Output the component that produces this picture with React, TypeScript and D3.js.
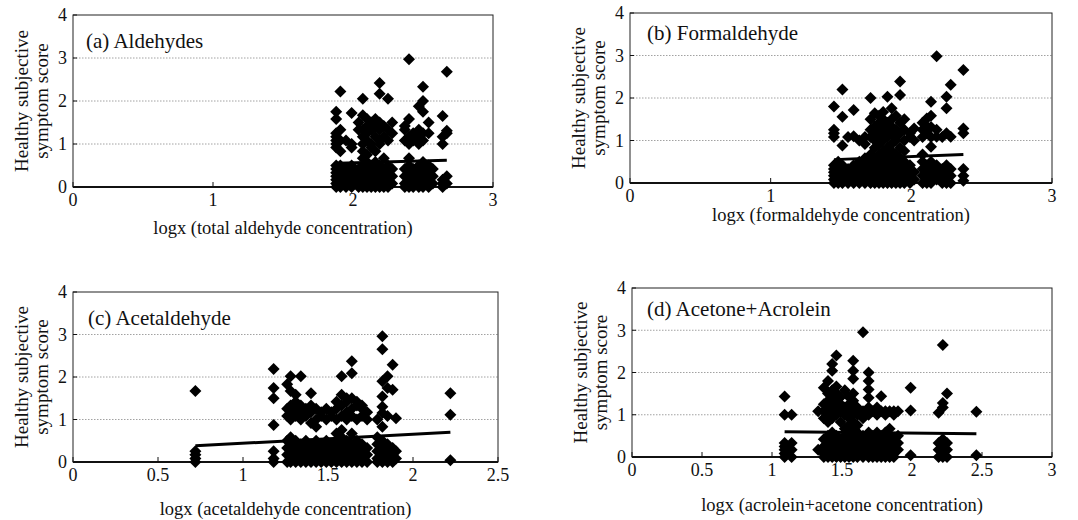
import * as d3 from 'd3'

type Col = [number, number[]]

// each column: [logx, scores at that x]
const aldehydesCols: Col[] = [
  [1.88, [0, 0.08, 0.17, 0.25, 0.33, 0.42, 0.5, 0.92, 1.0, 1.08, 1.17, 1.25, 1.58, 1.75]],
  [1.91, [0, 0.17, 0.33, 0.5, 0.83, 1.08, 1.33, 2.22]],
  [1.95, [0, 0.08, 0.25, 0.42, 1.08]],
  [1.99, [0, 0.17, 0.33, 0.5, 0.92, 1.0, 1.72]],
  [2.04, [0, 0.08, 0.25, 0.42, 1.33, 1.5]],
  [2.07, [0, 0.17, 0.33, 0.5, 0.67, 0.83, 1.0, 1.17, 1.33, 1.67, 2.05]],
  [2.1, [0, 0.08, 0.25, 0.42, 0.58, 0.75, 1.08, 1.25, 1.42, 1.58]],
  [2.13, [0, 0.17, 0.33, 0.5, 0.92, 1.0, 1.33, 1.5]],
  [2.16, [0, 0.08, 0.25, 0.42, 0.58, 0.83, 1.17, 1.42, 1.58]],
  [2.19, [0, 0.17, 0.33, 0.5, 1.0, 1.08, 1.33, 1.5, 2.17, 2.42]],
  [2.22, [0, 0.08, 0.25, 0.42, 0.67, 1.17, 1.42]],
  [2.25, [0, 0.17, 0.33, 0.5, 1.08, 1.33, 2.05]],
  [2.28, [0.08, 0.25, 0.42, 1.25, 1.5]],
  [2.37, [0, 0.08, 0.25, 0.42, 1.08, 1.33, 1.42]],
  [2.4, [0, 0.17, 0.33, 0.5, 0.67, 1.0, 1.17, 1.58, 2.97]],
  [2.43, [0, 0.08, 0.25, 0.42, 1.08, 1.25]],
  [2.47, [0, 0.17, 0.33, 0.5, 1.0, 1.17, 1.33, 1.88]],
  [2.5, [0, 0.08, 0.25, 0.42, 0.58, 1.08, 1.25, 1.75, 2.0, 2.33]],
  [2.54, [0, 0.17, 0.33, 0.5, 1.25, 1.5]],
  [2.57, [0.08, 0.25, 0.42]],
  [2.64, [0, 0.08, 0.17, 1.0, 1.17, 1.65]],
  [2.67, [0.08, 0.25, 1.25, 1.31, 2.68]],
]

const formaldehydeCols: Col[] = [
  [1.45, [0, 0.08, 0.17, 0.25, 0.33, 0.42, 1.08, 1.17, 1.25, 1.8]],
  [1.48, [0, 0.17, 0.33, 0.5]],
  [1.51, [0, 0.08, 0.25, 0.42, 0.88, 1.56, 2.2]],
  [1.55, [0, 0.17, 0.33, 1.08]],
  [1.59, [0, 0.08, 0.25, 0.42, 1.1, 1.72]],
  [1.63, [0, 0.17, 0.33, 0.5, 1.0]],
  [1.67, [0, 0.08, 0.25, 0.42, 0.58, 0.92, 1.08]],
  [1.71, [0, 0.17, 0.33, 0.5, 0.67, 1.08, 1.25, 1.5, 2.0]],
  [1.74, [0, 0.08, 0.25, 0.42, 0.58, 0.83, 1.0, 1.17, 1.33, 1.64]],
  [1.77, [0, 0.17, 0.33, 0.5, 0.67, 0.92, 1.08, 1.25, 1.42, 1.58]],
  [1.8, [0, 0.08, 0.25, 0.42, 0.58, 0.75, 1.0, 1.17, 1.33, 1.5, 1.67]],
  [1.83, [0, 0.17, 0.33, 0.5, 0.67, 0.83, 1.08, 1.25, 1.42, 2.03]],
  [1.86, [0, 0.08, 0.25, 0.42, 0.58, 0.75, 0.92, 1.17, 1.33, 1.5, 1.76]],
  [1.89, [0, 0.17, 0.33, 0.5, 0.67, 1.0, 1.08, 1.25, 1.58]],
  [1.92, [0, 0.08, 0.25, 0.42, 0.58, 0.83, 1.17, 1.42, 2.07, 2.39]],
  [1.95, [0, 0.17, 0.33, 0.5, 0.75, 1.0, 1.25, 1.5]],
  [1.99, [0, 0.08, 0.25, 0.42, 1.08, 1.17]],
  [2.02, [0.08, 0.25, 1.0, 1.28]],
  [2.08, [0, 0.17, 0.33, 0.5, 0.67, 1.08, 1.25, 1.42]],
  [2.11, [0, 0.08, 0.25, 0.42, 1.17, 1.33, 1.52]],
  [2.14, [0, 0.17, 0.33, 0.5, 0.85, 1.08, 1.32, 1.58, 1.91]],
  [2.18, [0.08, 0.25, 0.42, 1.09, 1.25, 2.98]],
  [2.22, [0, 0.17, 0.33, 1.08]],
  [2.25, [0, 0.08, 0.25, 0.42, 1.17, 1.76, 2.03]],
  [2.28, [0, 0.17, 0.33, 1.09, 2.31]],
  [2.37, [0.05, 0.17, 0.33, 1.17, 1.28, 2.66]],
]

const acetaldehydeCols: Col[] = [
  [0.72, [0, 0.08, 0.17, 0.25, 1.67]],
  [1.18, [0, 0.08, 0.25, 0.87, 1.5, 1.74, 2.19]],
  [1.26, [0, 0.17, 0.33, 0.5, 1.08, 1.25, 1.83]],
  [1.28, [0, 0.08, 0.25, 0.42, 0.58, 1.0, 1.17, 1.33, 1.67, 2.02]],
  [1.31, [0, 0.17, 0.33, 0.5, 1.08, 1.25, 1.42, 1.58]],
  [1.34, [0, 0.08, 0.25, 0.42, 1.0, 1.17, 1.33, 2.02]],
  [1.37, [0, 0.17, 0.33, 0.5, 1.08, 1.25]],
  [1.4, [0, 0.08, 0.25, 0.42, 0.92, 1.17, 1.33, 1.62]],
  [1.43, [0, 0.17, 0.33, 0.5, 0.83, 1.0, 1.25]],
  [1.46, [0, 0.08, 0.25, 0.42, 1.08, 1.17]],
  [1.49, [0, 0.17, 0.33, 0.5, 1.0, 1.25]],
  [1.52, [0, 0.08, 0.25, 0.42, 1.08, 1.17]],
  [1.55, [0, 0.17, 0.33, 0.5, 0.67, 1.0, 1.25, 1.42]],
  [1.58, [0, 0.08, 0.25, 0.42, 0.58, 0.75, 1.08, 1.33, 1.58, 2.02]],
  [1.61, [0, 0.17, 0.33, 0.5, 1.0, 1.17, 1.42, 1.5]],
  [1.64, [0, 0.08, 0.25, 0.42, 0.67, 1.08, 1.25, 1.5, 2.09, 2.37]],
  [1.67, [0, 0.17, 0.33, 0.5, 1.0, 1.33, 1.42]],
  [1.7, [0, 0.08, 0.25, 0.42, 1.08, 1.25, 1.33]],
  [1.73, [0, 0.17, 0.33, 1.0, 1.17]],
  [1.79, [0, 0.08, 0.25, 0.42, 0.58, 1.0]],
  [1.82, [0, 0.17, 0.33, 0.5, 0.83, 1.15, 1.3, 1.54, 1.9, 2.65, 2.96]],
  [1.85, [0, 0.08, 0.25, 0.42, 1.08, 1.74, 2.02]],
  [1.88, [0, 0.17, 0.33, 1.7, 2.29]],
  [1.9, [0.08, 0.25, 1.03]],
  [2.22, [0.04, 1.11, 1.62]],
]

const acetoneAcroleinCols: Col[] = [
  [1.09, [0, 0.08, 0.17, 0.25, 0.33, 1.0, 1.43]],
  [1.14, [0, 0.17, 0.33, 1.0]],
  [1.33, [0.17, 1.08]],
  [1.37, [0, 0.08, 0.25, 0.42, 0.92, 1.08, 1.25, 1.64]],
  [1.4, [0, 0.17, 0.33, 0.5, 0.83, 1.0, 1.17, 1.33, 1.5, 1.8]],
  [1.43, [0, 0.08, 0.25, 0.42, 0.58, 0.92, 1.08, 1.25, 1.42, 1.58, 2.04, 2.2]],
  [1.46, [0, 0.17, 0.33, 0.5, 1.0, 1.17, 1.33, 1.5, 1.67, 2.4]],
  [1.49, [0, 0.08, 0.25, 0.42, 0.83, 1.08, 1.25, 1.42]],
  [1.52, [0, 0.17, 0.33, 0.5, 0.67, 1.0, 1.17, 1.58]],
  [1.55, [0, 0.08, 0.25, 0.42, 0.58, 0.75, 0.92, 1.08, 1.25, 1.42]],
  [1.58, [0, 0.17, 0.33, 0.5, 0.67, 0.83, 1.0, 1.17, 1.33, 1.5, 1.85, 2.04, 2.28]],
  [1.61, [0, 0.08, 0.25, 0.42, 0.58, 0.75, 1.0, 1.17]],
  [1.65, [0, 0.17, 0.33, 0.5, 0.92, 1.08, 2.95]],
  [1.69, [0, 0.08, 0.25, 0.42, 0.58, 1.0, 1.17, 1.4, 1.6, 1.8, 2.0]],
  [1.72, [0, 0.17, 0.33, 0.5, 1.08]],
  [1.75, [0, 0.08, 0.25, 0.42, 0.58, 1.0, 1.17]],
  [1.78, [0, 0.17, 0.33, 0.5, 1.08, 1.44]],
  [1.81, [0, 0.08, 0.25, 0.42, 0.58, 1.0, 1.08]],
  [1.84, [0, 0.17, 0.33, 0.5, 0.67, 1.08]],
  [1.87, [0, 0.08, 0.25, 0.42, 1.0, 1.08]],
  [1.9, [0.17, 0.33, 0.5, 1.08]],
  [1.99, [0.04, 1.1, 1.64]],
  [2.19, [0, 0.17, 0.33, 1.05]],
  [2.22, [0, 0.08, 0.25, 0.42, 1.17, 1.28, 2.65]],
  [2.25, [0, 0.17, 0.33, 1.5]],
  [2.46, [0.04, 1.07]],
]

// fitted trend lines, [logx, score]
const aldehydesFit = [[1.89, 0.55], [2.67, 0.62]]
const formaldehydeFit = [[1.45, 0.55], [2.37, 0.67]]
const acetaldehydeFit = [[0.72, 0.38], [2.22, 0.7]]
const acetoneAcroleinFit = [[1.09, 0.6], [2.46, 0.55]]

const yTicks = [0, 1, 2, 3, 4]
const xTicksWhole = [0, 1, 2, 3]
const xTicksHalf25 = [0, 0.5, 1, 1.5, 2, 2.5]
const xTicksHalf3 = [0, 0.5, 1, 1.5, 2, 2.5, 3]

const panels = [
  {
    title: '(a) Aldehydes',
    xTitle: 'logx (total aldehyde concentration)',
    cols: aldehydesCols, fit: aldehydesFit, xTicks: xTicksWhole, xMax: 3,
    left: 73, right: 493, top: 15, bottom: 187, titleDx: 13, titleDy: 33, xTitleDy: 47,
  },
  {
    title: '(b) Formaldehyde',
    xTitle: 'logx (formaldehyde concentration)',
    cols: formaldehydeCols, fit: formaldehydeFit, xTicks: xTicksWhole, xMax: 3,
    left: 630, right: 1052, top: 13, bottom: 183, titleDx: 17, titleDy: 27, xTitleDy: 38,
  },
  {
    title: '(c) Acetaldehyde',
    xTitle: 'logx (acetaldehyde concentration)',
    cols: acetaldehydeCols, fit: acetaldehydeFit, xTicks: xTicksHalf25, xMax: 2.5,
    left: 73, right: 498, top: 292, bottom: 462, titleDx: 15, titleDy: 33, xTitleDy: 53,
  },
  {
    title: '(d) Acetone+Acrolein',
    xTitle: 'logx (acrolein+acetone concentration)',
    cols: acetoneAcroleinCols, fit: acetoneAcroleinFit, xTicks: xTicksHalf3, xMax: 3,
    left: 632, right: 1052, top: 288, bottom: 457, titleDx: 15, titleDy: 28, xTitleDy: 54,
  },
]

const diamond = d3.symbol(d3.symbolSquare, 72)()

function Panel({ p }: { p: (typeof panels)[number] }) {
  const x = d3.scaleLinear([0, p.xMax], [p.left, p.right])
  const y = d3.scaleLinear([0, 4], [p.bottom, p.top])
  const line = d3
    .line<number[]>()
    .x((d) => x(d[0]))
    .y((d) => y(d[1]))
  const pts = p.cols.flatMap(([cx, ys]) => ys.map((v) => [cx, v]))
  const midY = (p.top + p.bottom) / 2
  const midX = (p.left + p.right) / 2

  return (
    <g>
      {/* grid */}
      {[1, 2, 3].map((t) => (
        <line key={t} x1={p.left} x2={p.right} y1={y(t)} y2={y(t)}
          stroke="#8a8a8a" strokeWidth={0.8} strokeDasharray="1.5,1.5" />
      ))}
      <rect x={p.left} y={p.top} width={p.right - p.left} height={p.bottom - p.top}
        fill="none" stroke="#222" strokeWidth={1} />
      <line x1={p.left} x2={p.right} y1={p.bottom} y2={p.bottom} stroke="#111" strokeWidth={2} />
      {yTicks.map((t) => (
        <g key={t}>
          <line x1={p.left} x2={p.left + 4} y1={y(t)} y2={y(t)} stroke="#111" />
          <text x={p.left - 6} y={y(t)} dy="0.35em" textAnchor="end" fontSize={18}>{t}</text>
        </g>
      ))}
      {p.xTicks.map((t) => (
        <g key={t}>
          <line x1={x(t)} x2={x(t)} y1={p.bottom} y2={p.bottom - 5} stroke="#111" />
          <text x={x(t)} y={p.bottom + 19} textAnchor="middle" fontSize={18}>{t}</text>
        </g>
      ))}
      {/* points */}
      <g fill="#000">
        {pts.map((d, i) => (
          <path key={i} d={diamond} transform={`translate(${x(d[0])},${y(d[1])}) rotate(45)`} />
        ))}
      </g>
      <path d={line(p.fit)} fill="none" stroke="#000" strokeWidth={3} />
      <text x={p.left + p.titleDx} y={p.top + p.titleDy} fontSize={21}>{p.title}</text>
      <text x={midX} y={p.bottom + p.xTitleDy} textAnchor="middle" fontSize={18.5}>{p.xTitle}</text>
      <text transform={`translate(${p.left - 52},${midY}) rotate(-90)`} textAnchor="middle"
        dy="0.35em" fontSize={19}>Healthy subjective</text>
      <text transform={`translate(${p.left - 32},${midY}) rotate(-90)`} textAnchor="middle"
        dy="0.35em" fontSize={19}>symptom score</text>
    </g>
  )
}

export default function App() {
  return (
    <svg width={1078} height={520} style={{ position: 'absolute', left: 0, top: 0, background: '#fff' }}
      fontFamily="'Liberation Serif', 'Times New Roman', serif" fill="#111">
      <rect width={1078} height={520} fill="#fff" />
      {panels.map((p, i) => <Panel key={i} p={p} />)}
    </svg>
  )
}
